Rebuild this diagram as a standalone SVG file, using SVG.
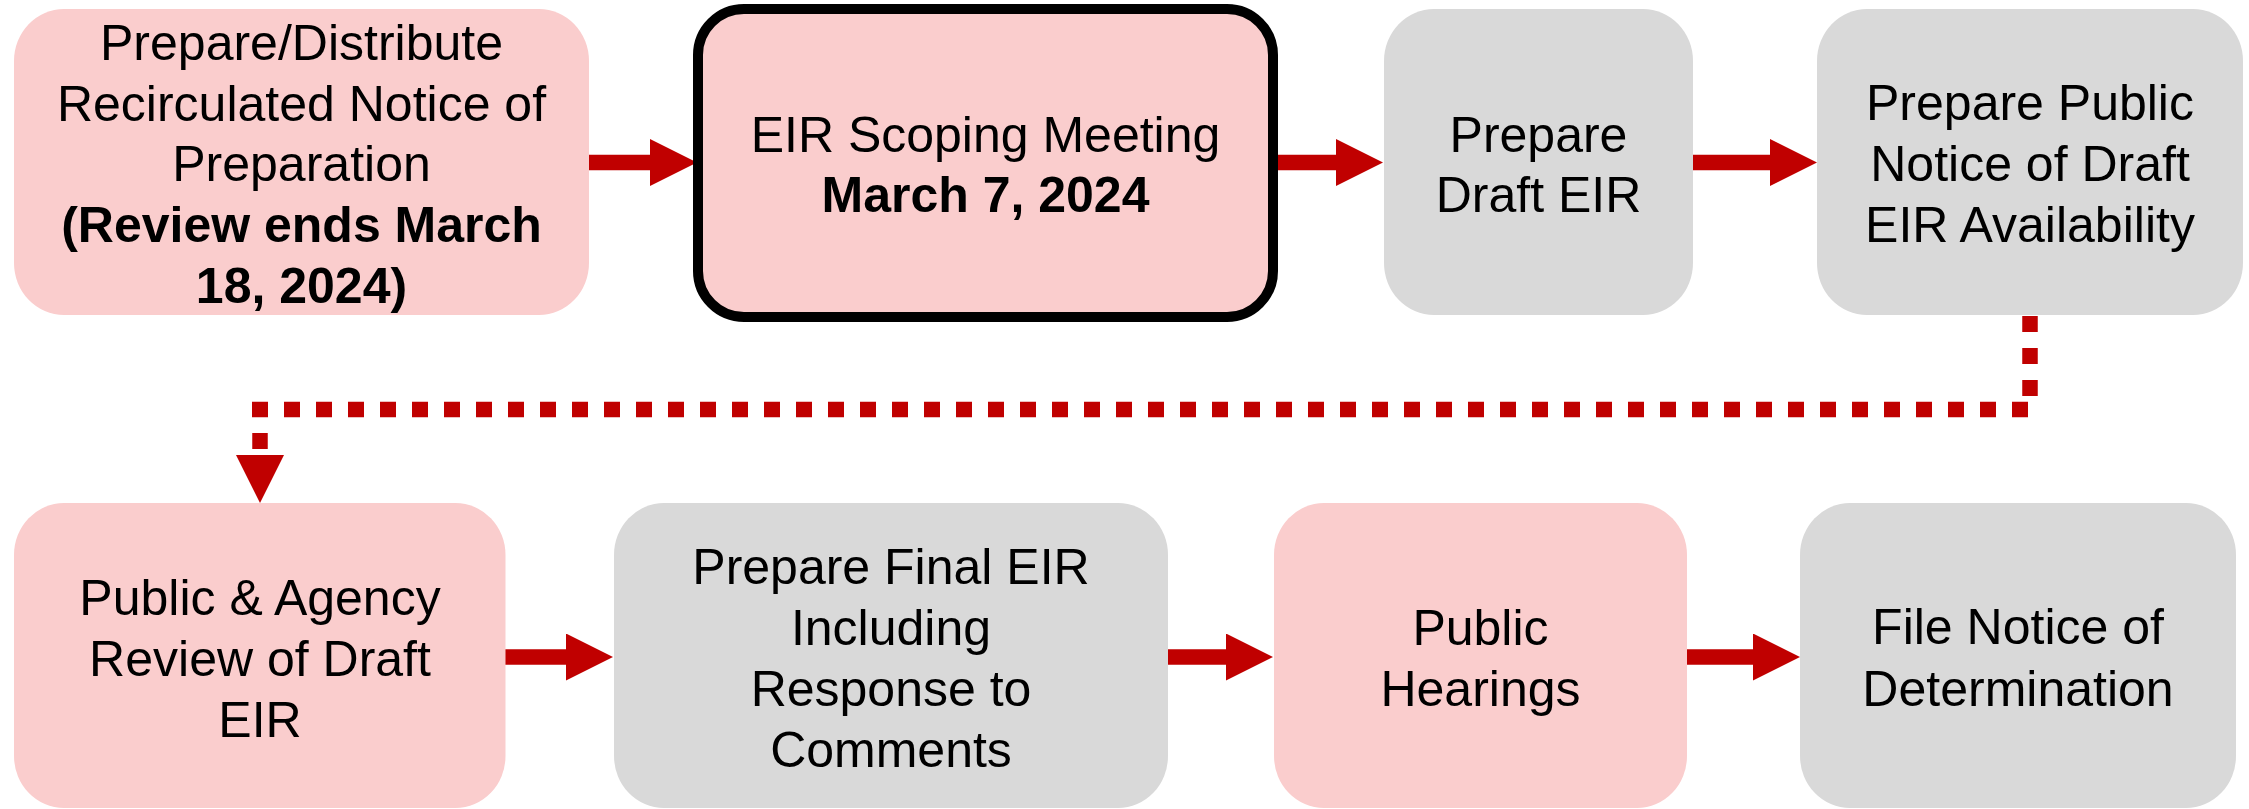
<svg xmlns="http://www.w3.org/2000/svg" width="2249" height="809" viewBox="0 0 2249 809">
  <defs>
    <style>
      .pink { fill: #FACDCD; }
      .gray { fill: #D9D9D9; }
      .label { font-family: "Liberation Sans", Arial, sans-serif; font-size: 50px; fill: #000000; text-anchor: middle; }
      .bold { font-weight: bold; }
      .flow { stroke: #C00000; stroke-width: 15.5; fill: none; stroke-linecap: butt; }
      .dots { stroke: #C00000; stroke-width: 15.5; fill: none; stroke-linecap: butt; stroke-dasharray: 16 16; }
      .head { fill: #C00000; }
    </style>
    <marker id="arrow" markerUnits="userSpaceOnUse" markerWidth="48" markerHeight="48" refX="0" refY="23.5" orient="auto" viewBox="0 0 48 48">
      <path d="M0,0 L47,23.5 L0,47 Z" fill="#C00000"/>
    </marker>
  </defs>
  <rect width="2249" height="809" fill="#FFFFFF"/>

  <g id="connectors">
    <line class="flow" x1="589" y1="162.5" x2="650" y2="162.5" marker-end="url(#arrow)"/>
    <line class="flow" x1="1276" y1="162.5" x2="1336" y2="162.5" marker-end="url(#arrow)"/>
    <line class="flow" x1="1693" y1="162.5" x2="1770" y2="162.5" marker-end="url(#arrow)"/>
    <line class="flow" x1="505" y1="657" x2="566" y2="657" marker-end="url(#arrow)"/>
    <line class="flow" x1="1168" y1="657" x2="1226" y2="657" marker-end="url(#arrow)"/>
    <line class="flow" x1="1687" y1="657" x2="1753" y2="657" marker-end="url(#arrow)"/>
    <g id="dotted-connector">
      <path class="dots" d="M2030,316 V396"/>
      <path class="dots" d="M2028,409.5 H252"/>
      <path class="dots" d="M260,433 V449"/>
      <polygon class="head" points="236,455 284,455 260,503"/>
    </g>
  </g>

  <g id="node1">
    <rect class="pink" x="14" y="9" width="575" height="306" rx="50" ry="52"/>
    <text class="label" x="301.5" y="60">Prepare/Distribute</text>
    <text class="label" x="301.5" y="121">Recirculated Notice of</text>
    <text class="label" x="301.5" y="181">Preparation</text>
    <text class="label bold" x="301.5" y="242">(Review ends March</text>
    <text class="label bold" x="301.5" y="303">18, 2024)</text>
  </g>

  <g id="node2">
    <rect class="pink" x="698" y="9" width="575" height="308" rx="46" ry="46" stroke="#000000" stroke-width="10"/>
    <text class="label" x="985.5" y="152">EIR Scoping Meeting</text>
    <text class="label bold" x="985.5" y="212">March 7, 2024</text>
  </g>

  <g id="node3">
    <rect class="gray" x="1384" y="9" width="309" height="306" rx="50" ry="52"/>
    <text class="label" x="1538.5" y="152">Prepare</text>
    <text class="label" x="1538.5" y="212">Draft EIR</text>
  </g>

  <g id="node4">
    <rect class="gray" x="1817" y="9" width="426" height="306" rx="50" ry="52"/>
    <text class="label" x="2030" y="120">Prepare Public</text>
    <text class="label" x="2030" y="181">Notice of Draft</text>
    <text class="label" x="2030" y="242">EIR Availability</text>
  </g>

  <g id="node5">
    <rect class="pink" x="14" y="503" width="491.5" height="305" rx="50" ry="52"/>
    <text class="label" x="260" y="615">Public &amp; Agency</text>
    <text class="label" x="260" y="676">Review of Draft</text>
    <text class="label" x="260" y="737">EIR</text>
  </g>

  <g id="node6">
    <rect class="gray" x="614" y="503" width="554" height="305" rx="50" ry="52"/>
    <text class="label" x="891" y="584">Prepare Final EIR</text>
    <text class="label" x="891" y="645">Including</text>
    <text class="label" x="891" y="706">Response to</text>
    <text class="label" x="891" y="767">Comments</text>
  </g>

  <g id="node7">
    <rect class="pink" x="1274" y="503" width="413" height="305" rx="50" ry="52"/>
    <text class="label" x="1480.5" y="645">Public</text>
    <text class="label" x="1480.5" y="706">Hearings</text>
  </g>

  <g id="node8">
    <rect class="gray" x="1800" y="503" width="436" height="305" rx="50" ry="52"/>
    <text class="label" x="2018" y="644">File Notice of</text>
    <text class="label" x="2018" y="706">Determination</text>
  </g>
</svg>
